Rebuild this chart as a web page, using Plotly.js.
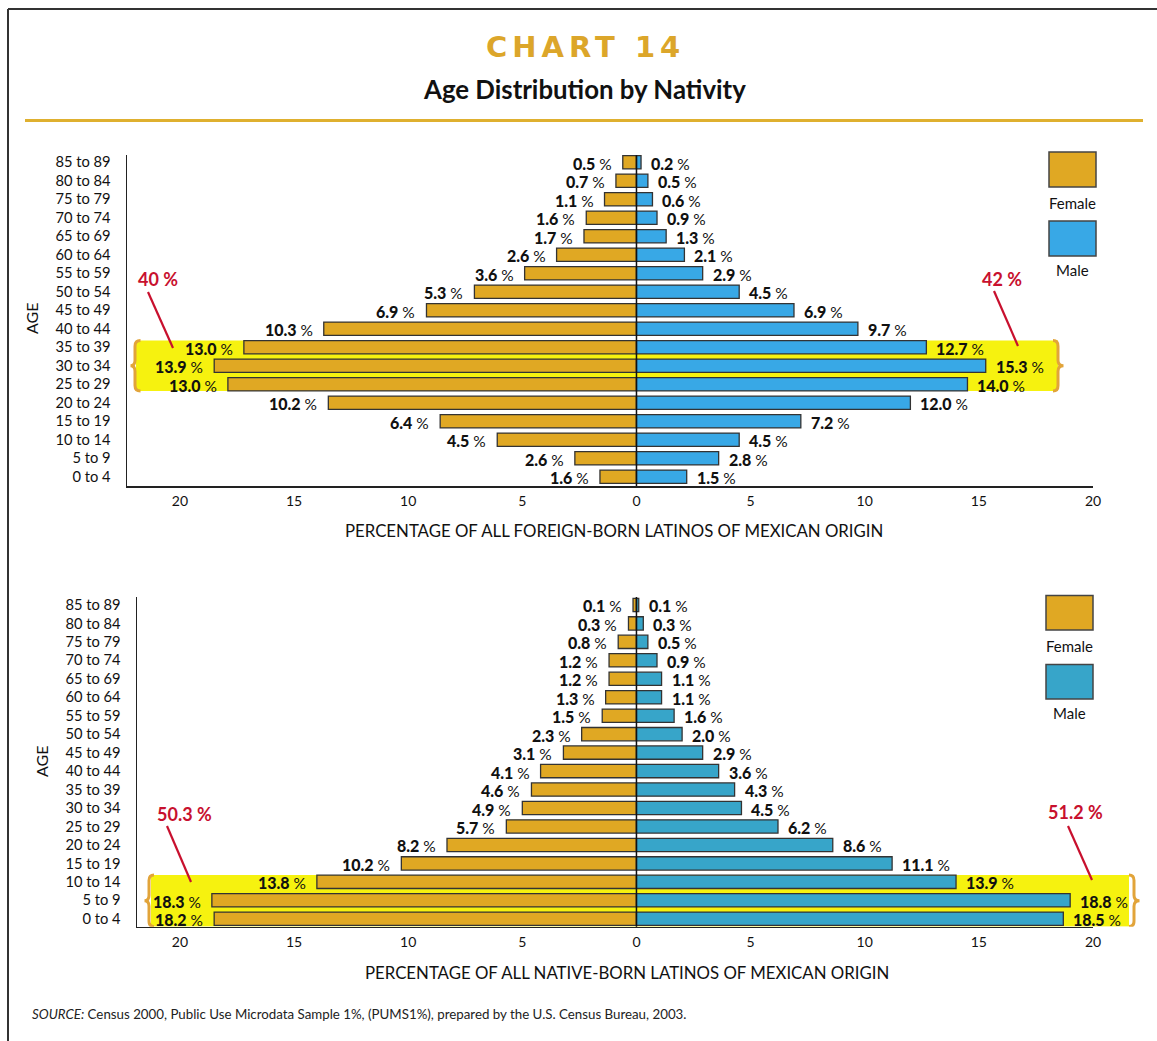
<!DOCTYPE html>
<html>
<head>
<meta charset="utf-8">
<script src="https://cdn.plot.ly/plotly-3.0.1.min.js"></script>
<style>
html, body { margin: 0; padding: 0; background: #fff; }
#chart { width: 1157px; height: 1041px; }
g.annotation[data-index="0"] text { letter-spacing: 5px; }
</style>
</head>
<body>
<div id="chart"></div>
<script>
// ---------- DATA (rows ordered from youngest to oldest) ----------
const ageGroups = ['0 to 4','5 to 9','10 to 14','15 to 19','20 to 24','25 to 29','30 to 34','35 to 39','40 to 44',
  '45 to 49','50 to 54','55 to 59','60 to 64','65 to 69','70 to 74','75 to 79','80 to 84','85 to 89'];

// Foreign-born: printed percentages
const foreignFemaleLabel = ['1.6','2.6','4.5','6.4','10.2','13.0','13.9','13.0','10.3','6.9','5.3','3.6','2.6','1.7','1.6','1.1','0.7','0.5'];
const foreignMaleLabel   = ['1.5','2.8','4.5','7.2','12.0','14.0','15.3','12.7','9.7','6.9','4.5','2.9','2.1','1.3','0.9','0.6','0.5','0.2'];
// Foreign-born: bar lengths as drawn in the picture (read against the x scale)
const foreignFemaleBar = [1.6, 2.7, 6.1, 8.6, 13.5, 17.9, 18.5, 17.2, 13.7, 9.2, 7.1, 4.9, 3.5, 2.3, 2.2, 1.4, 0.9, 0.6];
const foreignMaleBar   = [2.2, 3.6, 4.5, 7.2, 12.0, 14.5, 15.3, 12.7, 9.7, 6.9, 4.5, 2.9, 2.1, 1.3, 0.9, 0.7, 0.5, 0.2];

// Native-born: printed percentages
const nativeFemaleLabel = ['18.2','18.3','13.8','10.2','8.2','5.7','4.9','4.6','4.1','3.1','2.3','1.5','1.3','1.2','1.2','0.8','0.3','0.1'];
const nativeMaleLabel   = ['18.5','18.8','13.9','11.1','8.6','6.2','4.5','4.3','3.6','2.9','2.0','1.6','1.1','1.1','0.9','0.5','0.3','0.1'];
// Native-born: bar lengths as drawn
const nativeFemaleBar = [18.5, 18.6, 14.0, 10.3, 8.3, 5.7, 5.0, 4.6, 4.2, 3.2, 2.4, 1.5, 1.35, 1.2, 1.2, 0.8, 0.35, 0.15];
const nativeMaleBar   = [18.7, 19.0, 14.0, 11.2, 8.6, 6.2, 4.6, 4.3, 3.6, 2.9, 2.0, 1.65, 1.1, 1.1, 0.9, 0.5, 0.3, 0.1];

const xTickVals = [-20, -15, -10, -5, 0, 5, 10, 15, 20];
const xTickText = ['20', '15', '10', '5', '0', '5', '10', '15', '20'];

const foreignTotals = {female: '40 %', male: '42 %'};
const nativeTotals  = {female: '50.3 %', male: '51.2 %'};

// ---------- STYLE ----------
const W = 1157, H = 1041;
const FEMALE = '#E0A823';
const MALE_TOP = '#38A8E6';
const MALE_BOT = '#37A5C9';
const GOLD = '#DCA62A';
const YELLOW = '#F6F20F';
const BRACE = '#E2A43A';
const RED = '#C8102E';
const FONT = 'Lato, "Open Sans", sans-serif';

const px = v => v / W;
const py = v => 1 - v / H;

const G = {
  top: {x0: 127, x1: 1093, y0: 155, y1: 486, xr: [-22.32, 20], yr: [-0.5, 17.39]},
  bot: {x0: 137, x1: 1093, y0: 597, y1: 926.7, xr: [-21.88, 20], yr: [-0.43, 17.43]}
};

const rowIdx = ageGroups.map((_, i) => i);
const traces = [];
const annotations = [];
const shapes = [];

// title block (index 0 must be CHART title for letter-spacing css)
annotations.push({xref: 'paper', yref: 'paper', x: px(585), y: py(47), text: '<b>CHART 14</b>', showarrow: false,
  xanchor: 'center', yanchor: 'middle', font: {family: '"DejaVu Sans", sans-serif', size: 29, color: GOLD}});
annotations.push({xref: 'paper', yref: 'paper', x: px(584), y: py(89), text: '<b>Age Distribution by Nativity</b>', showarrow: false,
  xanchor: 'center', yanchor: 'middle', font: {family: FONT, size: 25.8, color: '#111'}});
annotations.push({xref: 'paper', yref: 'paper', x: px(30), y: py(1014),
  text: '<i>SOURCE:</i> Census 2000, Public Use Microdata Sample 1%, (PUMS1%), prepared by the U.S. Census Bureau, 2003.',
  showarrow: false, xanchor: 'left', yanchor: 'middle', font: {family: FONT, size: 13.3, color: '#222'}});

// frame and gold rule
shapes.push({type: 'line', xref: 'paper', yref: 'paper', x0: px(8), x1: px(1157), y0: py(9), y1: py(9), line: {color: '#333', width: 2}});
shapes.push({type: 'line', xref: 'paper', yref: 'paper', x0: px(8), x1: px(8), y0: py(9), y1: py(1041), line: {color: '#333', width: 2}});
shapes.push({type: 'line', xref: 'paper', yref: 'paper', x0: px(25), x1: px(1143), y0: py(120.5), y1: py(120.5), line: {color: '#DFB02F', width: 3}});

function bracePath(spineX, tipX, endX, yTop, yBot) {
  // x in paper coords, y in data (row) coords
  const ym = (yTop + yBot) / 2;
  const c = 0.3;
  return `M ${endX},${yTop} Q ${spineX},${yTop} ${spineX},${yTop - c} L ${spineX},${ym + c} Q ${spineX},${ym} ${tipX},${ym} ` +
         `Q ${spineX},${ym} ${spineX},${ym - c} L ${spineX},${yBot + c} Q ${spineX},${yBot} ${endX},${yBot}`;
}

function pctText(v) {
  return `${v}\u00A0<span style="font-weight:normal;font-size:15.5px">%</span>`;
}

function buildChart(key, suffix, femaleBar, maleBar, femaleLabel, maleLabel, maleColor, cfg) {
  const g = G[key];
  const xa = 'x' + suffix, ya = 'y' + suffix;
  traces.push({
    type: 'bar', orientation: 'h', x: femaleBar.map(v => -v), y: rowIdx, xaxis: xa, yaxis: ya,
    marker: {color: FEMALE, line: {color: '#333', width: 1.3}}, hoverinfo: 'skip', showlegend: false, name: 'Female'
  });
  traces.push({
    type: 'bar', orientation: 'h', x: maleBar, y: rowIdx, xaxis: xa, yaxis: ya,
    marker: {color: maleColor, line: {color: '#333', width: 1.3}}, hoverinfo: 'skip', showlegend: false, name: 'Male'
  });
  const lf = {family: FONT, size: 16, color: '#111', weight: 900};
  rowIdx.forEach(i => {
    annotations.push({xref: xa, yref: ya, x: -femaleBar[i], y: i, text: pctText(femaleLabel[i]), showarrow: false,
      xanchor: 'right', yanchor: 'middle', xshift: -9, yshift: -1, font: lf});
    annotations.push({xref: xa, yref: ya, x: maleBar[i], y: i, text: pctText(maleLabel[i]), showarrow: false,
      xanchor: 'left', yanchor: 'middle', xshift: 8, yshift: -1, font: lf});
  });
  // yellow highlight
  shapes.push({type: 'rect', xref: 'paper', yref: ya, layer: 'below', x0: px(cfg.hl[0]), x1: px(cfg.hl[1]),
    y0: cfg.hlRows[0], y1: cfg.hlRows[1], fillcolor: YELLOW, line: {width: 0}});
  // braces
  shapes.push({type: 'path', xref: 'paper', yref: ya, layer: 'above',
    path: bracePath(px(cfg.braceL[0]), px(cfg.braceL[1]), px(cfg.braceL[2]), cfg.hlRows[1], cfg.hlRows[0]),
    line: {color: BRACE, width: 3}});
  shapes.push({type: 'path', xref: 'paper', yref: ya, layer: 'above',
    path: bracePath(px(cfg.braceR[0]), px(cfg.braceR[1]), px(cfg.braceR[2]), cfg.hlRows[1], cfg.hlRows[0]),
    line: {color: BRACE, width: 3}});
  // center line
  shapes.push({type: 'line', xref: xa, yref: ya + ' domain', x0: 0, x1: 0, y0: 0, y1: 1, layer: 'above',
    line: {color: '#111', width: 1.5}});
  // red totals
  annotations.push({xref: 'paper', yref: 'paper', x: px(cfg.redL.t[0]), y: py(cfg.redL.t[1]), text: '<b>' + cfg.totals.female + '</b>',
    showarrow: false, xanchor: 'center', yanchor: 'middle', font: {family: FONT, size: 18, color: RED}});
  annotations.push({xref: 'paper', yref: 'paper', x: px(cfg.redR.t[0]), y: py(cfg.redR.t[1]), text: '<b>' + cfg.totals.male + '</b>',
    showarrow: false, xanchor: 'center', yanchor: 'middle', font: {family: FONT, size: 18, color: RED}});
  [cfg.redL.l, cfg.redR.l].forEach(l => shapes.push({type: 'line', xref: 'paper', yref: 'paper',
    x0: px(l[0]), y0: py(l[1]), x1: px(l[2]), y1: py(l[3]), line: {color: RED, width: 2.2}}));
  // axis titles
  annotations.push({xref: 'paper', yref: 'paper', x: px(cfg.xTitle[0]), y: py(cfg.xTitle[1]), text: cfg.xTitleText,
    showarrow: false, xanchor: 'center', yanchor: 'middle', font: {family: FONT, size: 16.8, color: '#111'}});
  annotations.push({xref: 'paper', yref: 'paper', x: px(cfg.age[0]), y: py(cfg.age[1]), text: 'AGE', textangle: -90,
    showarrow: false, xanchor: 'center', yanchor: 'middle', font: {family: FONT, size: 16, color: '#111'}});
  // legend
  const L = cfg.legend;
  shapes.push({type: 'rect', xref: 'paper', yref: 'paper', x0: px(L.x0), x1: px(L.x1), y0: py(L.fy[0]), y1: py(L.fy[1]),
    fillcolor: FEMALE, line: {color: '#444', width: 1.5}});
  shapes.push({type: 'rect', xref: 'paper', yref: 'paper', x0: px(L.x0), x1: px(L.x1), y0: py(L.my[0]), y1: py(L.my[1]),
    fillcolor: maleColor, line: {color: '#444', width: 1.5}});
  annotations.push({xref: 'paper', yref: 'paper', x: px((L.x0 + L.x1) / 2), y: py(L.ft), text: 'Female', showarrow: false,
    xanchor: 'center', yanchor: 'middle', font: {family: FONT, size: 15, color: '#111'}});
  annotations.push({xref: 'paper', yref: 'paper', x: px((L.x0 + L.x1) / 2), y: py(L.mt), text: 'Male', showarrow: false,
    xanchor: 'center', yanchor: 'middle', font: {family: FONT, size: 15, color: '#111'}});
}

buildChart('top', '', foreignFemaleBar, foreignMaleBar, foreignFemaleLabel, foreignMaleLabel, MALE_TOP, {
  hl: [136, 1058], hlRows: [4.63, 7.36],
  braceL: [135, 130.5, 140.5], braceR: [1058, 1063.5, 1053],
  totals: foreignTotals,
  redL: {t: [158, 279], l: [148, 292, 173, 348]},
  redR: {t: [1002, 279], l: [994, 291, 1018, 346]},
  xTitle: [614, 530], xTitleText: 'PERCENTAGE OF ALL FOREIGN-BORN LATINOS OF MEXICAN ORIGIN',
  age: [32, 319],
  legend: {x0: 1049, x1: 1096, fy: [152, 187], my: [221, 256], ft: 203, mt: 270}
});
buildChart('bot', '2', nativeFemaleBar, nativeMaleBar, nativeFemaleLabel, nativeMaleLabel, MALE_BOT, {
  hl: [151, 1129], hlRows: [-0.42, 2.37],
  braceL: [149, 144.5, 154], braceR: [1134, 1139.5, 1129],
  totals: nativeTotals,
  redL: {t: [184, 814], l: [167, 826, 191, 882]},
  redR: {t: [1075, 812], l: [1068, 826, 1092, 880]},
  xTitle: [627, 972], xTitleText: 'PERCENTAGE OF ALL NATIVE-BORN LATINOS OF MEXICAN ORIGIN',
  age: [41, 762],
  legend: {x0: 1046, x1: 1093, fy: [595.5, 630], my: [664.5, 699], ft: 646, mt: 713}
});

function xAxis(g, anchor) {
  return {domain: [px(g.x0), px(g.x1)], range: g.xr, anchor: anchor, showline: true, linecolor: '#222', linewidth: 1.5,
    showgrid: false, zeroline: false, ticks: '', tickmode: 'array', tickvals: xTickVals, ticktext: xTickText,
    ticklabelstandoff: 2, tickfont: {family: FONT, size: 14, color: '#111'}, fixedrange: true};
}
function yAxis(g, anchor) {
  return {domain: [py(g.y1), py(g.y0)], range: g.yr, anchor: anchor, showline: true, linecolor: '#222', linewidth: 1.5,
    showgrid: false, zeroline: false, ticks: '', tickmode: 'array', tickvals: rowIdx, ticktext: ageGroups,
    ticklabelstandoff: 12, tickfont: {family: FONT, size: 14.7, color: '#111'}, fixedrange: true};
}

const layout = {
  width: W, height: H, margin: {l: 0, r: 0, t: 0, b: 0},
  paper_bgcolor: '#fff', plot_bgcolor: 'rgba(0,0,0,0)',
  barmode: 'overlay', bargap: 0.28, showlegend: false,
  xaxis: xAxis(G.top, 'y'), yaxis: yAxis(G.top, 'x'),
  xaxis2: xAxis(G.bot, 'y2'), yaxis2: yAxis(G.bot, 'x2'),
  annotations: annotations, shapes: shapes
};

Plotly.newPlot('chart', traces, layout, {staticPlot: true, displayModeBar: false});
</script>
</body>
</html>
